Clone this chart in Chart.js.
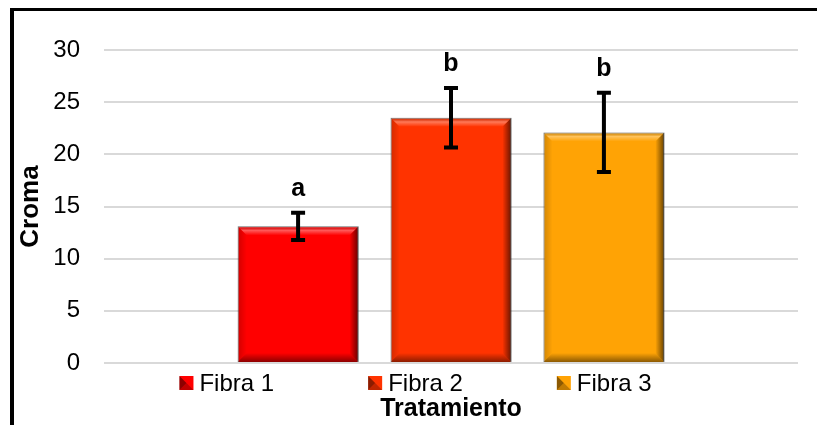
<!DOCTYPE html>
<html>
<head>
<meta charset="utf-8">
<title>Croma por tratamiento</title>
<script src="https://cdn.jsdelivr.net/npm/chart.js@4.4.1/dist/chart.umd.min.js"></script>
<style>
    html, body { margin: 0; padding: 0; background: #fff; }
    body { width: 817px; height: 425px; overflow: hidden; position: relative; }
    .frame {
        position: absolute; left: 10px; top: 8px;
        width: 803px; height: 414px;
        border-top: 3px solid #000; border-left: 4px solid #000;
    }
    .frame canvas { display: block; }
</style>
</head>
<body>
<div class="frame"><canvas id="croma-chart" width="803" height="414"></canvas></div>
<script>
const categories = ['Fibra 1', 'Fibra 2', 'Fibra 3'];
const cromaMeans = [13.1, 23.5, 22.1];
const cromaErrors = [1.3, 2.85, 3.8];
const sigLetters = ['a', 'b', 'b'];
const yTicks = [0, 5, 10, 15, 20, 25, 30];

const barColors = ['#ff0000', '#ff3300', '#ffa305'];
const FONT = 'Arial, "Liberation Sans", sans-serif';

document.addEventListener('DOMContentLoaded', function () {
    const ctx = document.getElementById('croma-chart');

    // bevel look of the Excel bars, drawn over each bar element
    function drawBevel(c, left, right, top, bottom, b) {
        let g = c.createLinearGradient(right - b, 0, right, 0);
        g.addColorStop(0, 'rgba(0,0,0,0)');
        g.addColorStop(1, 'rgba(0,0,0,0.6)');
        c.fillStyle = g;
        c.beginPath();
        c.moveTo(right - b, top + b); c.lineTo(right, top);
        c.lineTo(right, bottom); c.lineTo(right - b, bottom - b);
        c.closePath(); c.fill();

        g = c.createLinearGradient(0, bottom - b, 0, bottom);
        g.addColorStop(0, 'rgba(0,0,0,0)');
        g.addColorStop(1, 'rgba(0,0,0,0.45)');
        c.fillStyle = g;
        c.beginPath();
        c.moveTo(left, bottom); c.lineTo(right, bottom);
        c.lineTo(right - b, bottom - b); c.lineTo(left + b, bottom - b);
        c.closePath(); c.fill();

        g = c.createLinearGradient(0, top, 0, top + b);
        g.addColorStop(0, 'rgba(0,0,0,0.12)');
        g.addColorStop(0.45, 'rgba(255,255,255,0.35)');
        g.addColorStop(1, 'rgba(255,255,255,0)');
        c.fillStyle = g;
        c.beginPath();
        c.moveTo(left, top); c.lineTo(right, top);
        c.lineTo(right - b, top + b); c.lineTo(left + b, top + b);
        c.closePath(); c.fill();

        g = c.createLinearGradient(left, 0, left + b, 0);
        g.addColorStop(0, 'rgba(0,0,0,0.18)');
        g.addColorStop(1, 'rgba(0,0,0,0)');
        c.fillStyle = g;
        c.beginPath();
        c.moveTo(left, top); c.lineTo(left + b, top + b);
        c.lineTo(left + b, bottom - b); c.lineTo(left, bottom);
        c.closePath(); c.fill();
    }

    const BarDecor = {
        id: 'barDecor',
        afterDatasetsDraw(chart) {
            const c = chart.ctx;
            const yScale = chart.scales.y;
            c.save();
            chart.data.datasets.forEach((ds, i) => {
                const bar = chart.getDatasetMeta(i).data[0];
                const p = bar.getProps(['x', 'y', 'base', 'width'], true);
                drawBevel(c, p.x - p.width / 2, p.x + p.width / 2, p.y, p.base, 9);

                // error bar
                const yHi = yScale.getPixelForValue(cromaMeans[i] + cromaErrors[i]);
                const yLo = yScale.getPixelForValue(cromaMeans[i] - cromaErrors[i]);
                c.strokeStyle = '#000';
                c.lineWidth = 4;
                c.beginPath();
                c.moveTo(p.x, yHi); c.lineTo(p.x, yLo);
                c.moveTo(p.x - 7, yHi); c.lineTo(p.x + 7, yHi);
                c.moveTo(p.x - 7, yLo); c.lineTo(p.x + 7, yLo);
                c.stroke();

                // significance letter
                c.fillStyle = '#000';
                c.font = 'bold 25px ' + FONT;
                c.textAlign = 'center';
                c.textBaseline = 'middle';
                c.fillText(sigLetters[i], p.x, yHi - 24);
            });
            c.restore();
        }
    };

    // legend sits between the plot and the axis title, as in Excel
    const BevelLegend = {
        id: 'bevelLegend',
        afterDraw(chart) {
            const c = chart.ctx;
            const box = 14, gapText = 6, gapItem = 94;
            c.save();
            c.font = '24px ' + FONT;
            const widths = chart.data.datasets.map(ds => box + gapText + c.measureText(ds.label).width);
            const total = widths.reduce((a, w) => a + w, 0) + gapItem * (widths.length - 1);
            let x = chart.width / 2 - total / 2;
            const yc = chart.chartArea.bottom + 20;
            chart.data.datasets.forEach((ds, i) => {
                c.fillStyle = ds.backgroundColor;
                c.fillRect(x, yc - box / 2, box, box);
                c.fillStyle = 'rgba(0,0,0,0.45)';
                c.beginPath();
                c.moveTo(x, yc - box / 2); c.lineTo(x + box / 2, yc);
                c.lineTo(x, yc + box / 2); c.closePath(); c.fill();
                c.fillStyle = 'rgba(0,0,0,0.25)';
                c.beginPath();
                c.moveTo(x, yc + box / 2); c.lineTo(x + box / 2, yc);
                c.lineTo(x + box, yc + box / 2); c.closePath(); c.fill();
                c.fillStyle = '#000';
                c.textAlign = 'left';
                c.textBaseline = 'middle';
                c.fillText(ds.label, x + box + gapText, yc + 1);
                x += widths[i] + gapItem;
            });
            c.restore();
        }
    };

    new Chart(ctx, {
        type: 'bar',
        data: {
            labels: [''],
            datasets: categories.map((name, i) => ({
                label: name,
                data: [cromaMeans[i]],
                backgroundColor: barColors[i],
                borderColor: 'rgba(110,110,110,0.8)',
                borderWidth: 1,
                categoryPercentage: 0.661,
                barPercentage: 0.79
            }))
        },
        options: {
            responsive: false,
            animation: false,
            layout: {
                padding: { top: 39, right: 19, bottom: 1, left: 0 }
            },
            plugins: {
                legend: { display: false },
                tooltip: { enabled: false }
            },
            scales: {
                x: {
                    grid: { display: false, drawTicks: false },
                    border: { display: false },
                    ticks: { display: false },
                    title: {
                        display: true,
                        text: 'Tratamiento',
                        color: '#000',
                        font: { family: FONT, size: 25, weight: 'bold' },
                        padding: { top: 31, bottom: 0 }
                    }
                },
                y: {
                    min: 0,
                    max: 30,
                    afterBuildTicks: scale => {
                        scale.ticks = yTicks.map(v => ({ value: v }));
                    },
                    afterFit: scale => { scale.width = 90; },
                    grid: { color: '#d9d9d9', lineWidth: 2, drawTicks: false },
                    border: { display: false },
                    ticks: {
                        color: '#000',
                        padding: 24,
                        font: { family: FONT, size: 24 }
                    },
                    title: {
                        display: true,
                        text: 'Croma',
                        color: '#000',
                        font: { family: FONT, size: 26, weight: 'bold' },
                        padding: { top: 1, bottom: 0 }
                    }
                }
            }
        },
        plugins: [BarDecor, BevelLegend]
    });
});
</script>
</body>
</html>
